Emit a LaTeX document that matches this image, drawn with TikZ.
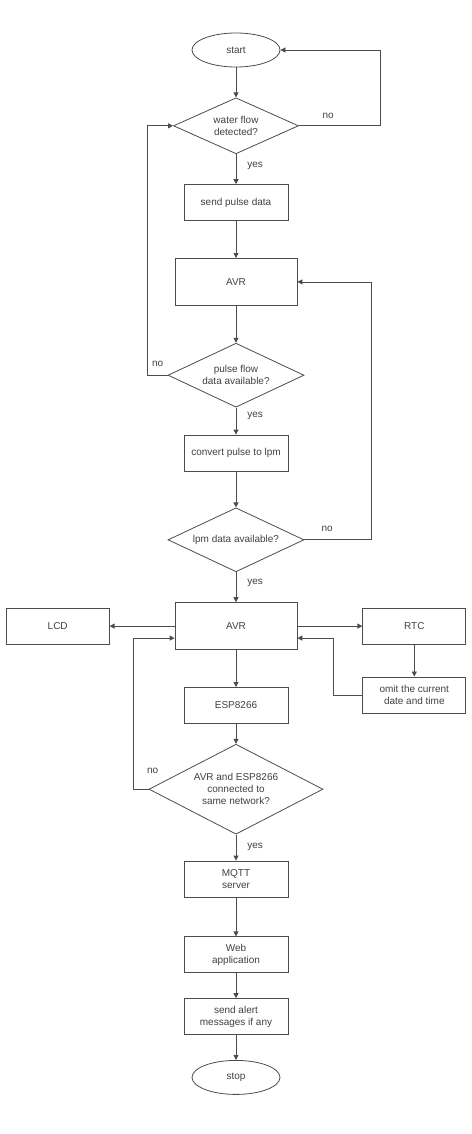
\documentclass[tikz,border=0pt]{standalone}
\usepackage{fontspec}
\setmainfont{Liberation Sans}
\usetikzlibrary{arrows.meta,positioning,shapes.geometric}

\begin{document}
\begin{tikzpicture}[x=1pt,y=1pt,>={Triangle[length=5pt,width=5pt]},
  font=\fontsize{10}{12}\selectfont,text=black!75,
  proc/.style={draw=black!70,line width=0.8pt,minimum width=104pt,minimum height=36pt,inner sep=2pt,align=center},
  avr/.style={proc,minimum width=122pt,minimum height=47pt},
  side/.style={proc,minimum width=103pt},
  term/.style={draw=black!70,line width=0.8pt,ellipse,minimum width=88pt,minimum height=34pt,inner sep=0pt},
  dec/.style={draw=black!70,line width=0.8pt,diamond,aspect=2,inner sep=0pt,align=center},
  flow/.style={->,draw=black!70,line width=0.8pt},
  lbl/.style={inner sep=1pt}]
  \useasboundingbox (0,0) rectangle (471,-1134);
  \node (start) [term] at (236,-50) {start};
  \node (water) [dec,minimum width=125pt,minimum height=56pt,below=30pt of start] {water flow\\detected?};
  \node (send) [proc,below=30pt of water] {send pulse data};
  \node (avr1) [avr,below=37pt of send] {AVR};
  \node (pulse) [dec,minimum width=136pt,minimum height=64pt,below=37pt of avr1] {pulse flow\\data available?};
  \node (conv) [proc,below=27pt of pulse] {convert pulse to lpm};
  \node (lpm) [dec,minimum width=136pt,minimum height=64pt,below=36pt of conv] {lpm data available?};
  \node (avr2) [avr,below=30pt of lpm] {AVR};
  \node (lcd) [side,left=65pt of avr2] {LCD};
  \node (rtc) [side,right=65pt of avr2] {RTC};
  \node (omit) [side,below=32pt of rtc] {omit the current\\date and time};
  \node (esp) [proc,below=37pt of avr2] {ESP8266};
  \node (net) [dec,minimum width=174pt,minimum height=90pt,below=20pt of esp] {AVR and ESP8266\\connected to\\same network?};
  \node (mqtt) [proc,below=26pt of net] {MQTT\\server};
  \node (web) [proc,below=39pt of mqtt] {Web\\application};
  \node (alert) [proc,below=25pt of web] {send alert\\messages if any};
  \node (stop) [term,below=25pt of alert] {stop};

  \draw[flow] (start) -- (water);
  \draw[flow] (water.east) -- node[lbl,pos=0.36,above=6pt] (no1) {no} ++(81,0) |- (start.east);
  \draw[flow] (water) -- node[lbl,pos=0.4,right=10pt] (yes1) {yes} (send);
  \draw[flow] (send) -- (avr1);
  \draw[flow] (avr1) -- (pulse);
  \draw[flow] (pulse.west) -- node[lbl,pos=0.5,above=7pt] (no2) {no} ++(-20,0) |- (water.west);
  \draw[flow] (pulse) -- node[lbl,pos=0.3,right=10pt] (yes2) {yes} (conv);
  \draw[flow] (conv) -- (lpm);
  \draw[flow] (lpm.east) -- node[lbl,pos=0.34,above=7pt] (no3) {no} ++(67,0) |- (avr1.east);
  \draw[flow] (lpm) -- node[lbl,pos=0.37,right=10pt] (yes3) {yes} (avr2);
  \draw[flow] (avr2) -- (lcd);
  \draw[flow] (avr2) -- (rtc);
  \draw[flow] (rtc) -- (omit);
  \draw[flow] (omit.west) -- ++(-29,0) |- ([yshift=-12pt]avr2.east);
  \draw[flow] (avr2) -- (esp);
  \draw[flow] (esp) -- (net);
  \draw[flow] (net.west) -- node[lbl,pos=0,above=14pt,xshift=4pt] (no4) {no} ++(-15,0) |- ([yshift=-12pt]avr2.west);
  \draw[flow] (net) -- node[lbl,pos=0.46,right=10pt] (yes4) {yes} (mqtt);
  \draw[flow] (mqtt) -- (web);
  \draw[flow] (web) -- (alert);
  \draw[flow] (alert) -- (stop);
\end{tikzpicture}
\end{document}
